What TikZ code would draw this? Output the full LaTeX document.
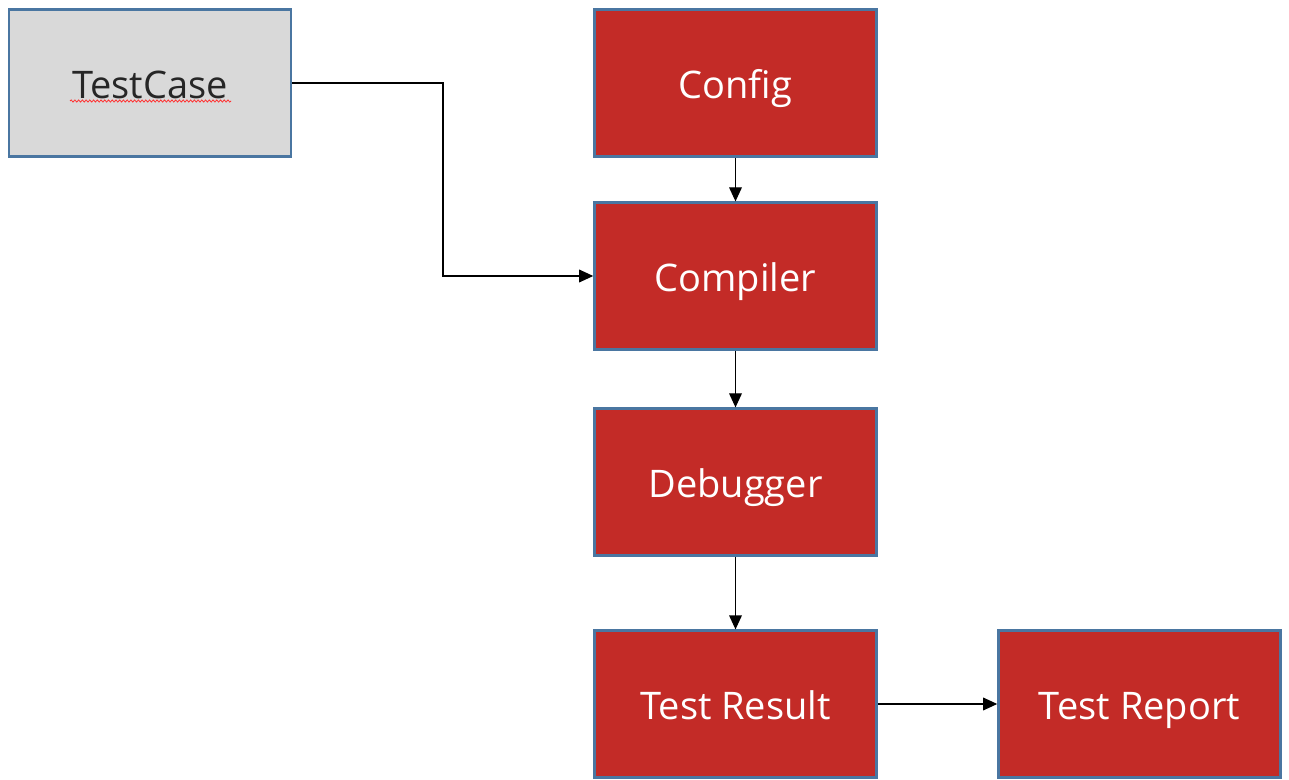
\documentclass[tikz,border=0pt]{standalone}
\usepackage{fontspec}
\setmainfont{Open Sans}
\usetikzlibrary{arrows.meta,decorations.pathmorphing}
\definecolor{boxred}{HTML}{C32B27}
\definecolor{boxgrey}{HTML}{D9D9D9}
\definecolor{edgeblue}{HTML}{4A76A1}
\tikzset{
  px/.style={x=0.75pt,y=-0.75pt},
  stage/.style={draw=edgeblue,line width=1.9pt,fill=boxred,text=white,
    minimum width=211.5pt,minimum height=110pt,inner sep=0pt,
    text height=23pt,text depth=0pt,
    font=\fontsize{28.5}{34}\selectfont},
  inputbox/.style={stage,fill=boxgrey,text=black!85},
  flow/.style={draw=black,line width=0.9pt,-{Triangle[length=10.5pt,width=9.5pt]}}
}
\begin{document}
\begin{tikzpicture}[px]
  \useasboundingbox (0,0) rectangle (1289,780);
  \node[inputbox] (testcase) at (150,83) {TestCase};
  \node[stage] (config)   at (735.5,83)  {Config};
  \node[stage] (compiler) at (735.5,276) {Compiler};
  \node[stage] (debugger) at (735.5,482) {Debugger};
  \node[stage] (result)   at (735.5,704) {Test Result};
  \node[stage] (report)   at (1139.5,704) {Test Report};
  % spell-check squiggle under the input label
  \coordinate (sqa) at (70,101);
  \coordinate (sqb) at (231,101);
  \draw[red!80,line width=0.6pt,decorate,
    decoration={snake,amplitude=0.8pt,segment length=2.8pt}] (sqa) -- (sqb);
  % connectors
  \draw[flow] (testcase.east) -- (443,83) |- (compiler.west);
  \draw[flow] (config) -- (compiler);
  \draw[flow] (compiler) -- (debugger);
  \draw[flow] (debugger) -- (result);
  \draw[flow] (result) -- (report);
\end{tikzpicture}
\end{document}
